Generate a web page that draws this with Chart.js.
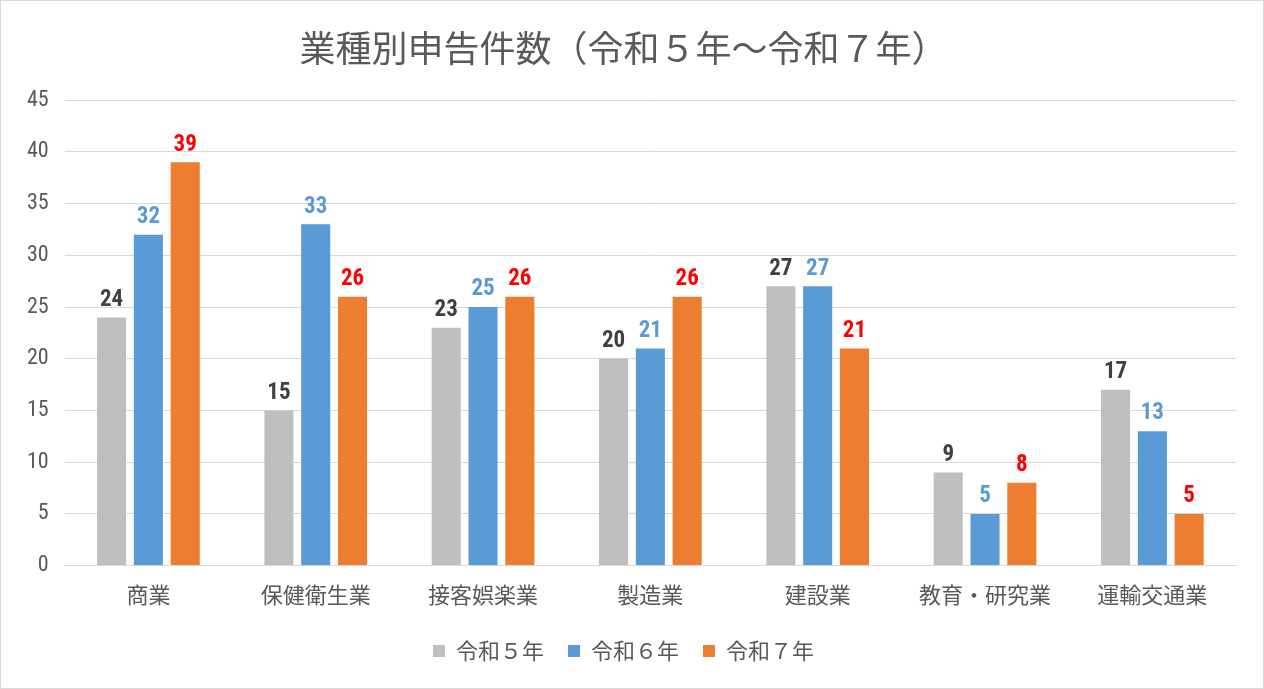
<!DOCTYPE html>
<html lang="ja">
<head>
    <meta charset="UTF-8">
    <title>業種別申告件数</title>
    <style>
        html, body {
            margin: 0;
            padding: 0;
            background: white;
        }
        #chartContainer {
            position: relative;
            width: 1262px;
            height: 687px;
            border: 1px solid #d9d9d9;
        }
    </style>
    <script src="https://cdn.jsdelivr.net/npm/chart.js@4/dist/chart.umd.min.js"></script>
</head>
<body>
    <div id="chartContainer">
        <canvas id="chart"></canvas>
    </div>
    <script>
        const categories = ['商業', '保健衛生業', '接客娯楽業', '製造業', '建設業', '教育・研究業', '運輸交通業'];
        const seriesNames = ['令和５年', '令和６年', '令和７年'];
        const r5 = [24, 15, 23, 20, 27, 9, 17];
        const r6 = [32, 33, 25, 21, 27, 5, 13];
        const r7 = [39, 26, 26, 26, 21, 8, 5];
        const barColors = ['#bfbfbf', '#5b9bd5', '#ed7d31'];
        const labelColors = ['#404040', '#5b9bd5', '#ff0000'];

        const jpFont = "'Noto Sans CJK JP', sans-serif";
        const numFont = "'Roboto Condensed', 'Liberation Sans Narrow', 'Noto Sans CJK JP', sans-serif";

        // 棒の上に数値を描く
        const valueLabels = {
            id: 'valueLabels',
            afterDatasetsDraw(chart) {
                const ctx = chart.ctx;
                ctx.save();
                ctx.font = 'bold 23px ' + numFont;
                ctx.textAlign = 'center';
                ctx.textBaseline = 'bottom';
                chart.data.datasets.forEach((ds, i) => {
                    const meta = chart.getDatasetMeta(i);
                    ctx.fillStyle = labelColors[i];
                    meta.data.forEach((bar, j) => {
                        ctx.fillText(ds.data[j], bar.x, bar.y - 6);
                    });
                });
                ctx.restore();
            }
        };

        const ctx = document.getElementById('chart').getContext('2d');
        new Chart(ctx, {
            type: 'bar',
            data: {
                labels: categories,
                datasets: [r5, r6, r7].map((d, i) => ({
                    label: seriesNames[i],
                    data: d,
                    backgroundColor: barColors[i],
                    categoryPercentage: 0.66,
                    barPercentage: 0.79
                }))
            },
            options: {
                responsive: true,
                maintainAspectRatio: false,
                animation: false,
                layout: {
                    padding: { left: 10, right: 27, top: 10, bottom: 16 }
                },
                plugins: {
                    title: {
                        display: true,
                        text: '業種別申告件数（令和５年～令和７年）',
                        color: '#595959',
                        font: { family: jpFont, size: 36, weight: 'normal' },
                        padding: { top: 16, bottom: 30 }
                    },
                    legend: {
                        position: 'bottom',
                        labels: {
                            color: '#595959',
                            font: { family: jpFont, size: 22 },
                            boxWidth: 12,
                            boxHeight: 12,
                            padding: 24
                        }
                    },
                    tooltip: { enabled: false }
                },
                scales: {
                    x: {
                        grid: { display: false },
                        border: { color: '#d9d9d9', width: 1 },
                        ticks: {
                            color: '#595959',
                            font: { family: jpFont, size: 22 },
                            padding: 8
                        }
                    },
                    y: {
                        min: 0,
                        max: 45,
                        ticks: {
                            stepSize: 5,
                            color: '#595959',
                            font: { family: numFont, size: 22 },
                            padding: 16
                        },
                        grid: { color: '#d9d9d9', drawTicks: false },
                        border: { display: false }
                    }
                }
            },
            plugins: [valueLabels]
        });
    </script>
</body>
</html>
